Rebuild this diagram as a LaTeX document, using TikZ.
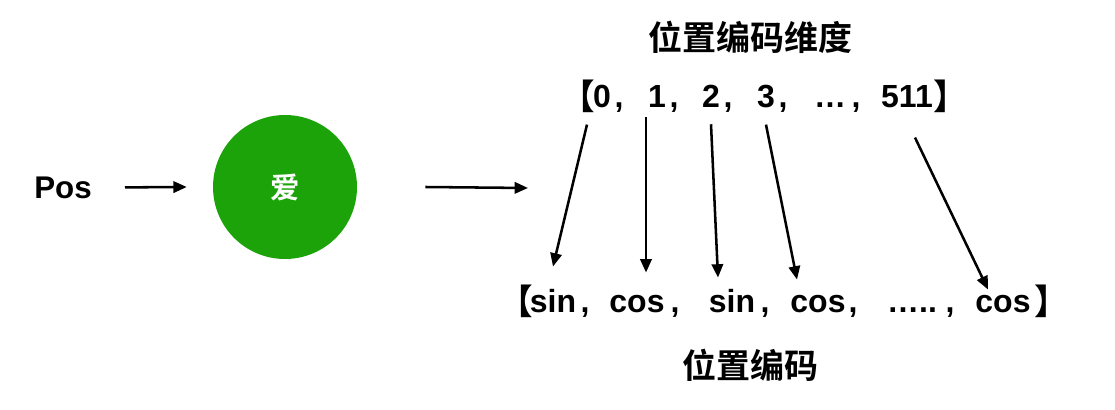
\documentclass[tikz,border=0pt]{standalone}
\usepackage{fontspec}
\setmainfont{Liberation Sans}
\newfontfamily\cjk{Noto Sans CJK SC}[BoldFont={Noto Sans CJK SC Bold}]
\usetikzlibrary{arrows.meta,calc}
\definecolor{lovegreen}{RGB}{29,163,10}
\tikzset{
  lbl/.style={font=\fontsize{24}{28}\selectfont\bfseries, inner sep=0pt, anchor=base},
  brk/.style={font=\fontsize{26}{30}\selectfont\cjk\bfseries, inner sep=0pt},
  cjklbl/.style={font=\fontsize{25.5}{30}\selectfont\cjk\bfseries, inner sep=0pt},
  arr/.style={line width=1.9pt, -{Triangle[length=10pt,width=8.5pt]}},
}
\begin{document}
\begin{tikzpicture}[x=0.75pt,y=-0.75pt]
\useasboundingbox (0,0) rectangle (1115,410);
% left part
\node[lbl, font=\fontsize{23.5}{27}\selectfont\bfseries] (pos) at (63,198) {Pos};
\node[circle, fill=lovegreen, minimum size=108pt, inner sep=0pt, text=white,
      font=\fontsize{22}{26}\selectfont\cjk\bfseries] (ai) at (285,187) {爱};
\coordinate (vecin) at (528,188);
\draw[arr] ($(pos.east)+(33,0)$) -- ($(ai.west)+(-26,0)$);
\draw[arr] ($(ai.east)+(68,0)$) -- (vecin);
% titles
\node[cjklbl] (dimt) at (750,37) {位置编码维度};
\node[cjklbl] (pet) at (750,365) {位置编码};
% top row
\node[brk, anchor=base east] (tl) at (595,110) {【};
\node[lbl] (t0) at (602,108) {0};
\node[lbl] (c0) at (619,108) {,};
\node[lbl] (t1) at (657,108) {1};
\node[lbl] (c1) at (674,108) {,};
\node[lbl] (t2) at (711,108) {2};
\node[lbl] (c2) at (728,108) {,};
\node[lbl] (t3) at (766,108) {3};
\node[lbl] (c3) at (783,108) {,};
\node[lbl] (td) at (830,108) {…};
\node[lbl] (c4) at (856,108) {,};
\node[lbl] (t511) at (907,108) {511};
\node[brk, anchor=base west] (tr) at (933,110) {】};
% bottom row
\node[brk, anchor=base east] (bl) at (533,314) {【};
\node[lbl] (b1) at (553,312) {sin};
\node[lbl] (d1) at (585,312) {,};
\node[lbl] (b2) at (637,312) {cos};
\node[lbl] (d2) at (675,312) {,};
\node[lbl] (b3) at (732,312) {sin};
\node[lbl] (d3) at (765,312) {,};
\node[lbl] (b4) at (818,312) {cos};
\node[lbl] (d4) at (853,312) {,};
\node[lbl] (b5) at (912,312) {…..};
\node[lbl] (d5) at (950,312) {,};
\node[lbl] (b6) at (1003,312) {cos};
\node[brk, anchor=base west] (br) at (1034,314) {】};
% arrows
\draw[arr] ($(t0.south)+(-15,16)$) -- ($(b1.north)+(0,-22)$);
\draw[arr] ($(t1.south)+(-11,9)$) -- ($(b2.north)+(9,-22)$);
\draw[arr] ($(t2.south)+(0,16)$) -- ($(b3.north)+(-14,-11)$);
\draw[arr] ($(t3.south)+(0,16)$) -- ($(b4.north)+(-21,-15)$);
\draw[arr] ($(t511.south)+(8,29)$) -- ($(b6.north)+(-15,-5)$);
\end{tikzpicture}
\end{document}
